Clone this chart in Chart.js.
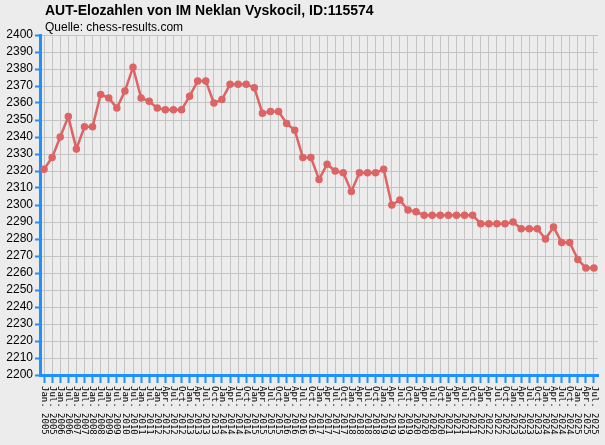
<!DOCTYPE html><html><head><script src="https://cdn.jsdelivr.net/npm/chart.js@4"></script>
<style>body{margin:0;background:#ececec}#w{width:605px;height:445px;position:relative}</style></head><body><div id="w"><canvas id="c"></canvas></div>
<script>
const labels=["Jan. 2005","Jul. 2005","Jan. 2006","Jul. 2006","Jan. 2007","Jul. 2007","Jan. 2008","Jul. 2008","Jan. 2009","Jul. 2009","Jan. 2010","Jul. 2010","Jan. 2011","Jul. 2011"];
for(let y=2012;y<=2025;y++){for(const m of ["Jan.","Apr.","Jul.","Oct."]){if(y===2025&&m==="Oct.")break;labels.push(m+" "+y);}}
const elo=[2321,2328,2340,2352,2333,2346,2346,2365,2363,2357,2367,2381,2363,2361,2357,2356,2356,2356,2364,2373,2373,2360,2362,2371,2371,2371,2369,2354,2355,2355,2348,2344,2328,2328,2315,2324,2320,2319,2308,2319,2319,2319,2321,2300,2303,2297,2296,2294,2294,2294,2294,2294,2294,2294,2289,2289,2289,2289,2290,2286,2286,2286,2280,2287,2278,2278,2268,2263,2263];
const title="AUT-Elozahlen von IM Neklan Vyskocil, ID:115574";
const subtitle="Quelle: chess-results.com";
const xlab={id:'xlab',afterDraw(ch){const s=ch.scales.x,c=ch.ctx;c.save();c.font='9px "DejaVu Sans Mono"';c.fillStyle='#000';c.textBaseline='middle';
labels.forEach((l,i)=>{const x=s.getPixelForValue(i);c.save();c.translate(x,s.top+11);c.rotate(Math.PI/2);c.fillText(l,0,0);c.restore();});
c.font='bold 14px "Liberation Sans"';c.textBaseline='alphabetic';c.fillText(title,45,15);c.font='12px "Liberation Sans"';c.fillText(subtitle,45,31);c.restore();}};
new Chart(document.getElementById('c'),{type:'line',data:{labels,datasets:[{data:elo,borderColor:'#dd6464',backgroundColor:'#dd6464',borderWidth:2.5,pointRadius:2.5,tension:0}]},
options:{responsive:true,maintainAspectRatio:false,animation:false,layout:{padding:{top:35,right:7,bottom:62,left:0}},
plugins:{legend:{display:false},tooltip:{enabled:false}},
scales:{x:{offset:true,ticks:{display:false},grid:{color:'#c4c4c4',tickColor:'#1e90ff',tickLength:8,tickWidth:2,offset:false},border:{color:'#1e90ff',width:3}},
y:{min:2200,max:2400,ticks:{stepSize:10,autoSkip:false,callback:v=>String(v),color:'#000',font:{size:12,family:'"Liberation Sans"'},padding:2},afterFit(a){a.width=40},grid:{color:'#c4c4c4',tickColor:'#1e90ff',tickLength:5,tickWidth:2},border:{color:'#1e90ff',width:3}}}},plugins:[xlab]});
</script></body></html>
